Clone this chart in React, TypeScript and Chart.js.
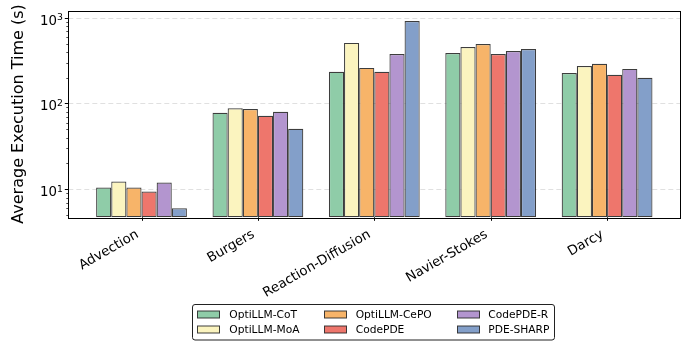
import React, { useEffect, useRef } from "react";
import { Chart, registerables } from "chart.js";

Chart.register(...registerables);

const categories = ["Advection", "Burgers", "Reaction-Diffusion", "Navier-Stokes", "Darcy"];
const seriesNames = ["OptiLLM-CoT", "OptiLLM-MoA", "OptiLLM-CePO", "CodePDE", "CodePDE-R", "PDE-SHARP"];
const seriesColors = ["#8fcca8", "#fbf4bf", "#f7b469", "#ee766c", "#b395cf", "#839fc9"];

const cotValues = [10.5, 78, 234, 388, 227];
const moaValues = [12.3, 88, 508, 456, 274];
const cepoValues = [10.5, 86, 260, 494, 290];
const codepdeValues = [9.4, 72, 234, 378, 216];
const codepdeRValues = [12.0, 80, 378, 409, 253];
const sharpValues = [6.0, 50.8, 916, 432, 199];

const seriesValues = [cotValues, moaValues, cepoValues, codepdeValues, codepdeRValues, sharpValues];

const yMin = 4.72;
const yMax = 1206;
const majorTicks = [1, 2, 3]; // exponents shown as 10^n
const yTitle = "Average Execution Time (s)";

const FONT = "'DejaVu Sans', sans-serif";
const EDGE = "rgba(40,40,40,0.9)";

const drawPlugin = {
  id: "mplLook",
  beforeDatasetsDraw(chart: any) {
    const ctx = chart.ctx;
    const { left, right } = chart.chartArea;
    const y = chart.scales.y;
    ctx.save();
    ctx.strokeStyle = "rgba(0,0,0,0.12)";
    ctx.lineWidth = 1;
    ctx.setLineDash([5, 3]);
    for (const e of majorTicks) {
      const py = Math.round(y.getPixelForValue(Math.pow(10, e))) + 0.5;
      ctx.beginPath();
      ctx.moveTo(left, py);
      ctx.lineTo(right, py);
      ctx.stroke();
    }
    ctx.restore();
  },
  afterDraw(chart: any) {
    const ctx = chart.ctx;
    const { left, right, top, bottom } = chart.chartArea;
    const x = chart.scales.x;
    const y = chart.scales.y;
    ctx.save();
    // frame
    ctx.strokeStyle = "#000";
    ctx.lineWidth = 1;
    ctx.strokeRect(Math.round(left) + 0.5, Math.round(top) + 0.5, Math.round(right - left), Math.round(bottom - top));

    // y ticks (major + minor)
    for (let e = 0; e <= 3; e++) {
      for (let k = 1; k <= 9; k++) {
        const v = k * Math.pow(10, e);
        if (v < yMin || v > yMax) continue;
        const py = Math.round(y.getPixelForValue(v)) + 0.5;
        const len = k === 1 ? 3.5 : 2;
        ctx.lineWidth = k === 1 ? 1 : 0.7;
        ctx.beginPath();
        ctx.moveTo(left, py);
        ctx.lineTo(left - len, py);
        ctx.stroke();
      }
    }
    // y tick labels
    ctx.fillStyle = "#000";
    ctx.textBaseline = "alphabetic";
    for (const e of majorTicks) {
      const py = y.getPixelForValue(Math.pow(10, e));
      ctx.font = `9.3px ${FONT}`;
      const sup = String(e);
      const supW = ctx.measureText(sup).width;
      ctx.font = `13.33px ${FONT}`;
      const baseW = ctx.measureText("10").width;
      const xr = left - 5.5;
      ctx.textAlign = "left";
      ctx.fillText("10", xr - supW - baseW, py + 7);
      ctx.font = `9.3px ${FONT}`;
      ctx.fillText(sup, xr - supW, py + 2.3);
    }

    // x ticks and labels
    ctx.font = `13.33px ${FONT}`;
    const ang = Math.PI / 6;
    const h = 1.17 * 13.33;
    categories.forEach((c, i) => {
      const px = Math.round(x.getPixelForValue(i)) + 0.5;
      ctx.lineWidth = 1;
      ctx.beginPath();
      ctx.moveTo(px, bottom);
      ctx.lineTo(px, bottom + 3.5);
      ctx.stroke();
      const w = ctx.measureText(c).width;
      const W = w * Math.cos(ang) + h * Math.sin(ang);
      const H = w * Math.sin(ang) + h * Math.cos(ang);
      const cx = px - 1 - W / 2;
      const cy = bottom + 9.5 + H / 2;
      ctx.save();
      ctx.translate(cx, cy);
      ctx.rotate(-ang);
      ctx.textAlign = "center";
      ctx.textBaseline = "middle";
      ctx.fillText(c, 0, 0);
      ctx.restore();
    });

    // y title
    ctx.save();
    ctx.font = `16px ${FONT}`;
    ctx.translate(19, (top + bottom) / 2);
    ctx.rotate(-Math.PI / 2);
    ctx.textAlign = "center";
    ctx.textBaseline = "middle";
    ctx.fillText(yTitle, 0, 0);
    ctx.restore();

    // legend
    const lx0 = 192.5, ly0 = 304.5, lw = 362, lh = 35.5;
    ctx.beginPath();
    const r = 2.5;
    ctx.moveTo(lx0 + r, ly0);
    ctx.arcTo(lx0 + lw, ly0, lx0 + lw, ly0 + lh, r);
    ctx.arcTo(lx0 + lw, ly0 + lh, lx0, ly0 + lh, r);
    ctx.arcTo(lx0, ly0 + lh, lx0, ly0, r);
    ctx.arcTo(lx0, ly0, lx0 + lw, ly0, r);
    ctx.closePath();
    ctx.fillStyle = "rgba(255,255,255,0.9)";
    ctx.fill();
    ctx.strokeStyle = "#222";
    ctx.lineWidth = 1;
    ctx.stroke();
    const patchX = [197.5, 324.5, 457.5];
    const textX = [229.3, 355.7, 488.3];
    const rowY = [314.5, 329.5];
    ctx.font = `10.67px ${FONT}`;
    ctx.textAlign = "left";
    ctx.textBaseline = "middle";
    seriesNames.forEach((name, i) => {
      const col = Math.floor(i / 2);
      const row = i % 2;
      ctx.fillStyle = seriesColors[i];
      ctx.fillRect(patchX[col], rowY[row] - 3.5, 22, 7);
      ctx.strokeStyle = EDGE;
      ctx.strokeRect(patchX[col], rowY[row] - 3.5, 22, 7);
      ctx.fillStyle = "#000";
      ctx.fillText(name, textX[col], rowY[row] + 0.5);
    });
    ctx.restore();
  },
};

export default function App() {
  const ref = useRef<HTMLCanvasElement | null>(null);
  useEffect(() => {
    if (!ref.current) return;
    const datasets = seriesNames.map((name, j) => ({
      label: name,
      data: seriesValues[j].map((v, i) => ({ x: i, y: v })),
      backgroundColor: seriesColors[j],
      borderColor: EDGE,
      borderWidth: 1.2,
      borderSkipped: false,
      categoryPercentage: 0.78,
      barPercentage: 1.0,
    }));
    const chart = new Chart(ref.current, {
      type: "bar",
      data: { datasets },
      options: {
        animation: false,
        responsive: false,
        maintainAspectRatio: false,
        layout: { padding: { top: 10.7, right: 9.7, left: 0, bottom: 0 } },
        plugins: { legend: { display: false }, tooltip: { enabled: false }, title: { display: false } },
        scales: {
          x: {
            type: "linear",
            offset: false,
            min: -0.629,
            max: 4.629,
            grid: { display: false, offset: false },
            border: { display: false },
            ticks: { display: false },
            afterBuildTicks: (s: any) => {
              s.ticks = categories.map((_, i) => ({ value: i }));
            },
            afterFit: (s: any) => {
              s.height = 350 - 217.3;
            },
          },
          y: {
            type: "logarithmic",
            min: yMin,
            max: yMax,
            grid: { display: false },
            border: { display: false },
            ticks: { display: false },
            afterFit: (s: any) => {
              s.width = 68.3;
            },
          },
        },
      },
      plugins: [drawPlugin],
    } as any);
    return () => chart.destroy();
  }, []);
  return (
    <div style={{ position: "fixed", left: 0, top: 0, width: 690, height: 350, background: "#fff" }}>
      <canvas ref={ref} width={690} height={350} style={{ width: 690, height: 350 }} />
    </div>
  );
}
